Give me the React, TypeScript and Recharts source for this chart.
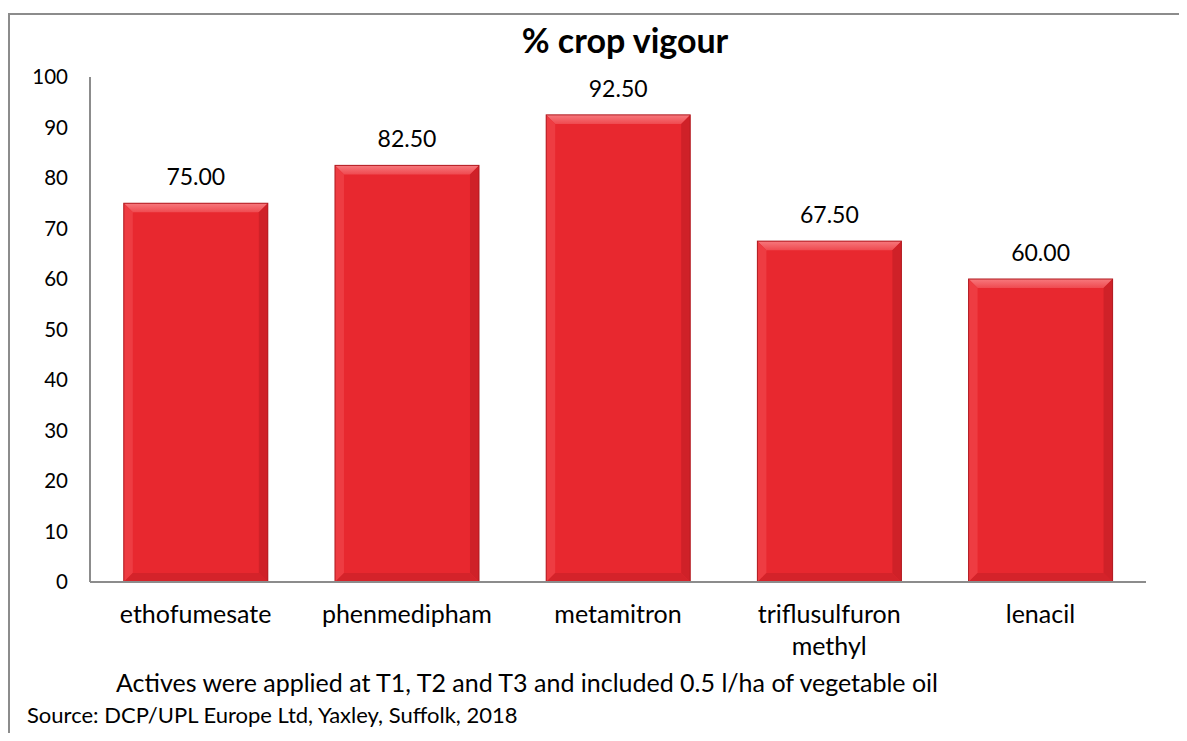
import React from "react";
import { BarChart, Bar, XAxis, YAxis, LabelList } from "recharts";

const categories = ["ethofumesate", "phenmedipham", "metamitron", "triflusulfuron methyl", "lenacil"];
const vigour = [75.0, 82.5, 92.5, 67.5, 60.0];
const yTicks = [0, 10, 20, 30, 40, 50, 60, 70, 80, 90, 100];

const data = categories.map((name, i) => ({ name, vigour: vigour[i] }));

const FONT = "Lato, 'Open Sans', sans-serif";

function BevelBar(props: any) {
  const { x, y, width: w, height: h } = props;
  if (!h || h <= 0) return null;
  const b = Math.min(9, w / 4, h / 4);
  return (
    <g>
      <rect x={x} y={y} width={w} height={h} fill="#E8282F" />
      <polygon
        points={`${x},${y} ${x + w},${y} ${x + w - b},${y + b} ${x + b},${y + b}`}
        fill="url(#bevelTop)"
      />
      <polygon
        points={`${x},${y} ${x + b},${y + b} ${x + b},${y + h - b} ${x},${y + h}`}
        fill="#EE3C42"
      />
      <polygon
        points={`${x + w},${y} ${x + w},${y + h} ${x + w - b},${y + h - b} ${x + w - b},${y + b}`}
        fill="#CF2128"
      />
      <polygon
        points={`${x},${y + h} ${x + w},${y + h} ${x + w - b},${y + h - b} ${x + b},${y + h - b}`}
        fill="#D4232A"
      />
      <rect x={x} y={y} width={w} height={h} fill="none" stroke="#B01A20" strokeWidth={1} />
    </g>
  );
}

// long category names break onto two lines, like the original
function CategoryTick(props: any) {
  const { x, y, payload } = props;
  const lines: string[] = payload.value.length > 14 ? payload.value.split(" ") : [payload.value];
  return (
    <text x={x} y={y} textAnchor="middle" fontFamily={FONT} fontSize={25} fill="#000">
      {lines.map((l, i) => (
        <tspan key={i} x={x} dy={i === 0 ? 35 : 32}>
          {l}
        </tspan>
      ))}
    </text>
  );
}

export default function App() {
  return (
    <div style={{ position: "relative", width: 1179, height: 725, background: "#fff", overflow: "hidden" }}>
      <div
        style={{
          position: "absolute",
          left: 0,
          top: 5,
          width: 1300,
          height: 800,
          borderLeft: "2px solid #8c8c8c",
          borderTop: "2px solid #8c8c8c",
        }}
      />
      <div
        style={{
          position: "absolute",
          left: 0,
          width: 1234,
          top: 11,
          textAlign: "center",
          fontFamily: FONT,
          fontWeight: 700,
          fontSize: 34,
          color: "#000",
        }}
      >
        % crop vigour
      </div>
      <BarChart
        width={1179}
        height={725}
        data={data}
        margin={{ top: 69, right: 41, left: 22, bottom: 71 }}
        barCategoryGap="16%"
        style={{ position: "absolute", left: 0, top: 0 }}
      >
        <defs>
          <linearGradient id="bevelTop" x1="0" y1="0" x2="0" y2="1">
            <stop offset="0%" stopColor="#F7797D" />
            <stop offset="100%" stopColor="#EF4A50" />
          </linearGradient>
        </defs>
        <XAxis
          dataKey="name"
          tickLine={false}
          axisLine={{ stroke: "#8c8c8c", strokeWidth: 2 }}
          tick={<CategoryTick />}
          tickMargin={0}
          height={80}
          interval={0}
        />
        <YAxis
          domain={[0, 100]}
          ticks={yTicks}
          tickLine={false}
          axisLine={{ stroke: "#8c8c8c", strokeWidth: 2 }}
          tick={{ fontFamily: FONT, fontSize: 20.5, fill: "#000" }}
          tickMargin={16}
          width={60}
        />
        <Bar dataKey="vigour" shape={<BevelBar />} isAnimationActive={false}>
          <LabelList
            dataKey="vigour"
            position="top"
            offset={18}
            formatter={(v: any) => Number(v).toFixed(2)}
            style={{ fontFamily: FONT, fontSize: 23, fill: "#000" }}
          />
        </Bar>
      </BarChart>
      <div
        style={{
          position: "absolute",
          left: 108,
          top: 659,
          fontFamily: FONT,
          fontSize: 25,
          lineHeight: 1.2,
          color: "#000",
          whiteSpace: "nowrap",
        }}
      >
        Actives were applied at T1, T2 and T3 and included 0.5 l/ha of vegetable oil
      </div>
      <div
        style={{
          position: "absolute",
          left: 19,
          top: 694,
          fontFamily: FONT,
          fontSize: 22,
          lineHeight: 1.2,
          color: "#000",
          whiteSpace: "nowrap",
        }}
      >
        Source: DCP/UPL Europe Ltd, Yaxley, Suffolk, 2018
      </div>
    </div>
  );
}
